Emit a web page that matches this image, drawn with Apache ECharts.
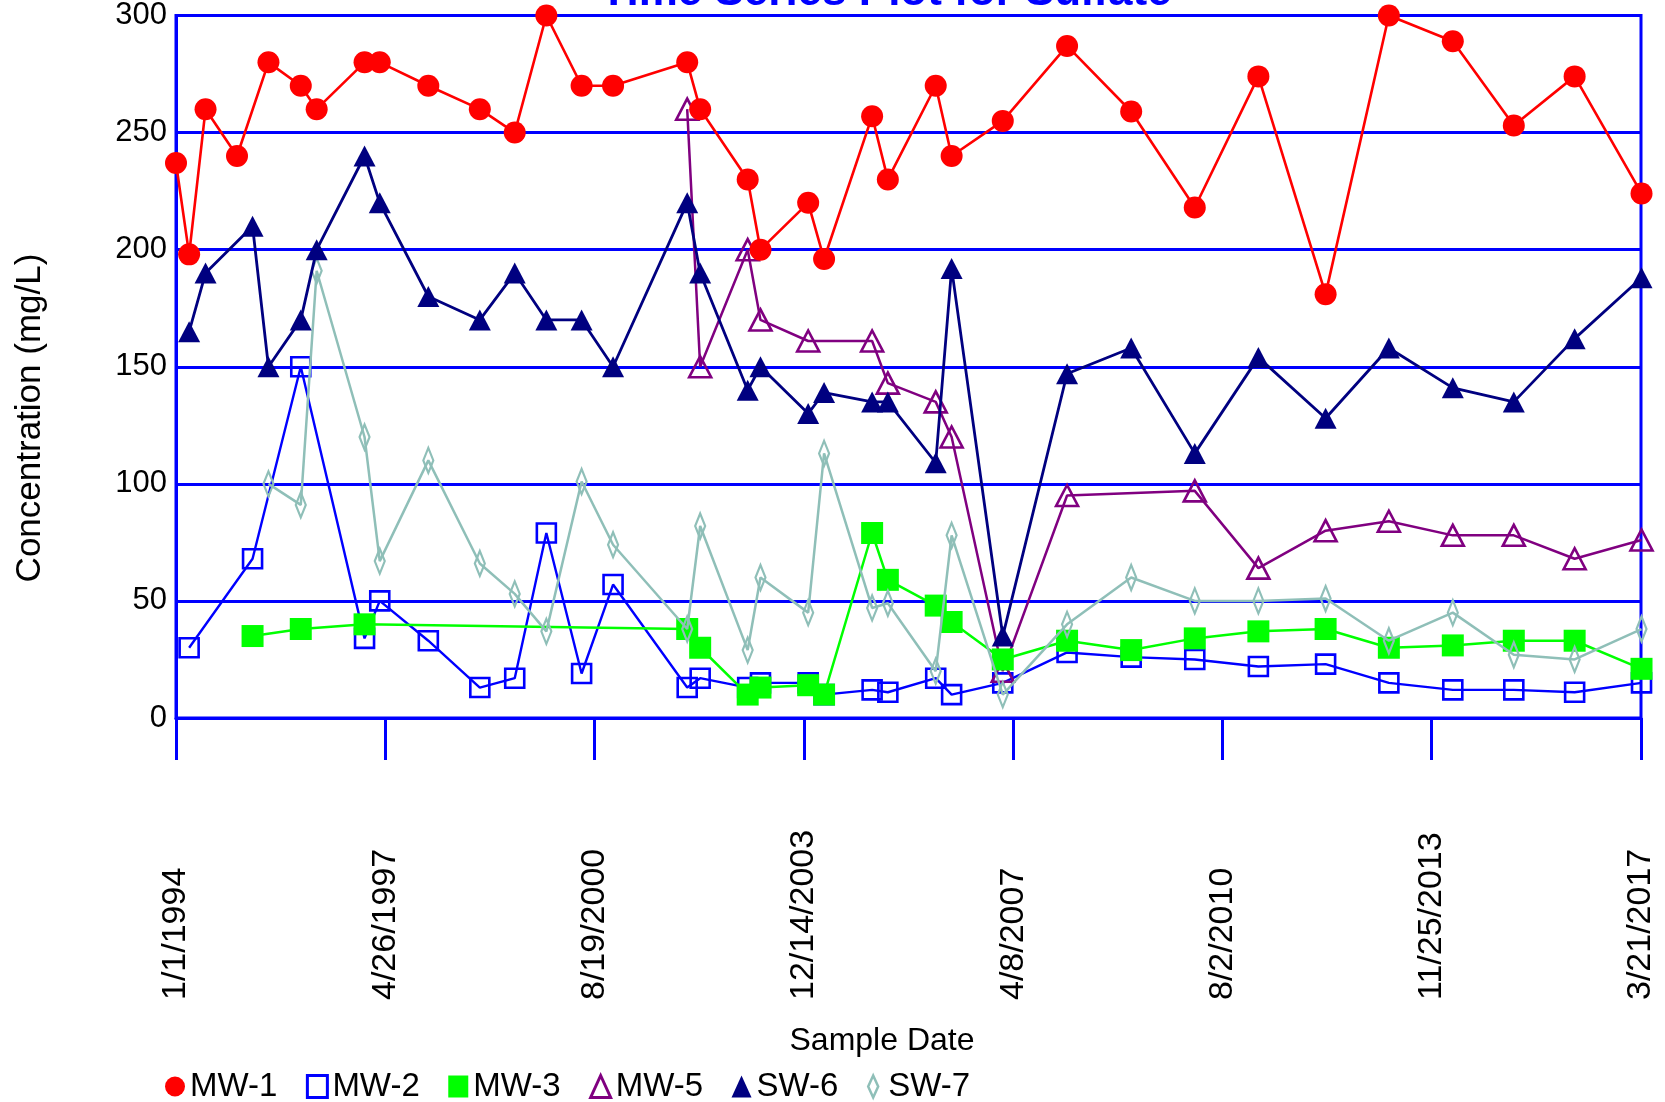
<!DOCTYPE html>
<html>
<head>
<meta charset="utf-8">
<script src="https://cdn.jsdelivr.net/npm/echarts@6/dist/echarts.min.js"></script>
<style>
html,body{margin:0;padding:0;background:#fff;}
#chart{width:1665px;height:1102px;}
</style>
</head>
<body>
<div id="chart"></div>
<script>
// ---- Data ----
const tickLabels = ['1/1/1994','4/26/1997','8/19/2000','12/14/2003','4/8/2007','8/2/2010','11/25/2013','3/21/2017'];

const mw1Dates = ['1994-01-01','1994-03-18','1994-06-21','1994-12-20','1995-06-20','1995-12-24','1996-03-25','1996-12-27','1997-03-25','1997-12-31','1998-10-25','1999-05-15','1999-11-14','2000-06-05','2000-12-04','2002-02-06','2002-04-22','2003-01-22','2003-04-06','2004-01-07','2004-04-08','2005-01-11','2005-04-12','2006-01-14','2006-04-16','2007-02-06','2008-02-13','2009-02-18','2010-02-21','2011-02-24','2012-03-19','2013-03-20','2014-03-25','2015-03-13','2016-02-28','2017-03-21'];
const mw1Values = [237,198,260,240,280,270,260,280,280,270,260,250,300,270,270,280,260,230,200,220,196,257,230,270,240,255,287,259,218,274,181,300,289,253,274,224];

const mw2Dates = ['1994-03-18','1995-03-20','1995-12-24','1996-12-27','1997-03-25','1997-12-31','1998-10-25','1999-05-15','1999-11-14','2000-06-05','2000-12-04','2002-02-06','2002-04-22','2003-01-22','2003-04-06','2004-01-07','2004-04-08','2005-01-11','2005-04-12','2006-01-14','2006-04-16','2007-02-06','2008-02-13','2009-02-18','2010-02-21','2011-02-24','2012-03-19','2013-03-20','2014-03-25','2015-03-13','2016-02-28','2017-03-21'];
const mw2Values = [30,68,150,34,50,33,13,17,79,19,57,13,17,13,15,15,10,12,11,17,10,15,28,26,25,22,23,15,12,12,11,15];

const mw3Dates = ['1995-03-20','1995-12-24','1996-12-27','2002-02-06','2002-04-22','2003-01-22','2003-04-06','2004-01-07','2004-04-08','2005-01-11','2005-04-12','2006-01-14','2006-04-16','2007-02-06','2008-02-13','2009-02-18','2010-02-21','2011-02-24','2012-03-19','2013-03-20','2014-03-25','2015-03-13','2016-02-28','2017-03-21'];
const mw3Values = [35,38,40,38,30,10,13,14,10,79,59,48,41,25,33,29,34,37,38,30,31,33,33,21];

const mw5Dates = ['2002-02-06','2002-04-22','2003-01-22','2003-04-06','2004-01-07','2005-01-11','2005-04-12','2006-01-14','2006-04-16','2007-02-06','2008-02-13','2010-02-21','2011-02-24','2012-03-19','2013-03-20','2014-03-25','2015-03-13','2016-02-28','2017-03-21'];
const mw5Values = [260,150,200,170,161,161,143,135,120,20,95,97,64,80,84,78,78,68,76];

const sw6Dates = ['1994-03-18','1994-06-21','1995-03-20','1995-06-20','1995-12-24','1996-03-25','1996-12-27','1997-03-25','1997-12-31','1998-10-25','1999-05-15','1999-11-14','2000-06-05','2000-12-04','2002-02-06','2002-04-22','2003-01-22','2003-04-06','2004-01-07','2004-04-08','2005-01-11','2005-04-12','2006-01-14','2006-04-16','2007-02-06','2008-02-13','2009-02-18','2010-02-21','2011-02-24','2012-03-19','2013-03-20','2014-03-25','2015-03-13','2016-02-28','2017-03-21'];
const sw6Values = [165,190,210,150,170,200,240,220,180,170,190,170,170,150,220,190,140,150,130,139,135,135,109,192,35,147,158,113,154,128,158,141,135,162,188];

const sw7Dates = ['1995-06-20','1995-12-24','1996-03-25','1996-12-27','1997-03-25','1997-12-31','1998-10-25','1999-05-15','1999-11-14','2000-06-05','2000-12-04','2002-02-06','2002-04-22','2003-01-22','2003-04-06','2004-01-07','2004-04-08','2005-01-11','2005-04-12','2006-01-14','2006-04-16','2007-02-06','2008-02-13','2009-02-18','2010-02-21','2011-02-24','2012-03-19','2013-03-20','2014-03-25','2015-03-13','2016-02-28','2017-03-21'];
const sw7Values = [100,91,191,120,67,110,66,53,37,101,74,38,82,29,60,45,113,47,49,20,78,10,40,60,50,50,51,33,45,27,25,38];

// ---- helpers ----
const ORIGIN = Date.UTC(1994, 0, 1);
const DAY = 86400000;
const TICK_DAYS = 1211;
function dayOf(s) {
  const p = s.split('-').map(Number);
  return (Date.UTC(p[0], p[1] - 1, p[2]) - ORIGIN) / DAY;
}
function pairs(dates, vals) { return dates.map((d, i) => [dayOf(d), vals[i]]); }

const FONT = "'Liberation Sans', Arial, Helvetica, sans-serif";
const AXIS_BLUE = '#0000ff';

const chart = echarts.init(document.getElementById('chart'), null, {renderer: 'canvas'});

function lineSeries(name, data, color, symbol, size, filled, z, lw) {
  return {
    name: name, type: 'line', data: data, z: z, clip: false,
    symbol: symbol, symbolSize: size, showAllSymbol: true,
    lineStyle: {color: color, width: lw},
    itemStyle: filled ? {color: color} : {color: 'rgba(255,255,255,0)', borderColor: color, borderWidth: 2.6},
    emphasis: {disabled: true}
  };
}

const option = {
  animation: false,
  backgroundColor: '#ffffff',
  grid: {left: 176, right: 24, top: 15, bottom: 384, show: true, borderColor: AXIS_BLUE, borderWidth: 3, backgroundColor: 'transparent'},
  xAxis: {
    type: 'value', min: 0, max: TICK_DAYS * (tickLabels.length - 1), interval: TICK_DAYS,
    axisLine: {show: true, lineStyle: {color: AXIS_BLUE, width: 3}},
    axisTick: {show: true, length: 42, lineStyle: {color: AXIS_BLUE, width: 3}},
    splitLine: {show: false},
    axisLabel: {
      rotate: 90, margin: 282, align: 'left', verticalAlign: 'middle',
      fontFamily: FONT, fontSize: 34, color: '#000', padding: [7, 0, 0, 0],
      showMinLabel: true, showMaxLabel: true,
      formatter: function (v) { return tickLabels[Math.round(v / TICK_DAYS)] || ''; }
    }
  },
  yAxis: {
    type: 'value', min: 0, max: 300, interval: 50,
    axisLine: {show: true, lineStyle: {color: AXIS_BLUE, width: 3}},
    axisTick: {show: false},
    splitLine: {show: true, lineStyle: {color: AXIS_BLUE, width: 3}},
    axisLabel: {fontFamily: FONT, fontSize: 31, color: '#000', margin: 9, padding: [6, 0, 0, 0]}
  },
  legend: {
    left: 165, top: 1070, padding: 0, itemGap: 28.5, itemWidth: 20, itemHeight: 22,
    textStyle: {fontFamily: FONT, fontSize: 33, color: '#000'},
    selectedMode: false,
    data: [
      {name: 'MW-1', icon: 'circle', itemStyle: {color: '#ff0000'}},
      {name: 'MW-2', icon: 'rect', itemStyle: {color: '#ffffff', borderColor: '#0000ff', borderWidth: 3}},
      {name: 'MW-3', icon: 'rect', itemStyle: {color: '#00ff00'}},
      {name: 'MW-5', icon: 'triangle', itemStyle: {color: '#ffffff', borderColor: '#800080', borderWidth: 3}},
      {name: 'SW-6', icon: 'triangle', itemStyle: {color: '#000080'}},
      {name: 'SW-7', icon: 'path://M5,0L10,11L5,22L0,11Z', itemStyle: {color: '#ffffff', borderColor: '#8fbfb8', borderWidth: 2.5}}
    ]
  },
  graphic: [
    {type: 'text', x: 886, y: -7, z: 100, style: {text: 'Time Series Plot for Sulfate', font: "bold 44px 'Liberation Sans', Arial, sans-serif", fill: '#0000ff', align: 'center', verticalAlign: 'middle'}},
    {type: 'text', x: 30, y: 418, rotation: Math.PI / 2, style: {text: 'Concentration (mg/L)', font: "35px 'Liberation Sans', Arial, sans-serif", fill: '#000', align: 'center', verticalAlign: 'middle'}},
    {type: 'text', x: 882, y: 1041, style: {text: 'Sample Date', font: "32px 'Liberation Sans', Arial, sans-serif", fill: '#000', align: 'center', verticalAlign: 'middle'}}
  ],
  series: [
    lineSeries('MW-2', pairs(mw2Dates, mw2Values), '#0000ff', 'rect', 19, false, 2, 2.4),
    lineSeries('MW-5', pairs(mw5Dates, mw5Values), '#800080', 'triangle', [22, 21], false, 3, 2.5),
    lineSeries('MW-3', pairs(mw3Dates, mw3Values), '#00ff00', 'rect', 22, true, 4, 2.5),
    lineSeries('SW-7', pairs(sw7Dates, sw7Values), '#8fbfb8', 'diamond', [10, 25], false, 5, 2.5),
    lineSeries('SW-6', pairs(sw6Dates, sw6Values), '#000080', 'triangle', [22, 21], true, 6, 2.8),
    lineSeries('MW-1', pairs(mw1Dates, mw1Values), '#ff0000', 'circle', 22, true, 7, 2.6)
  ]
};
chart.setOption(option);
</script>
</body>
</html>
